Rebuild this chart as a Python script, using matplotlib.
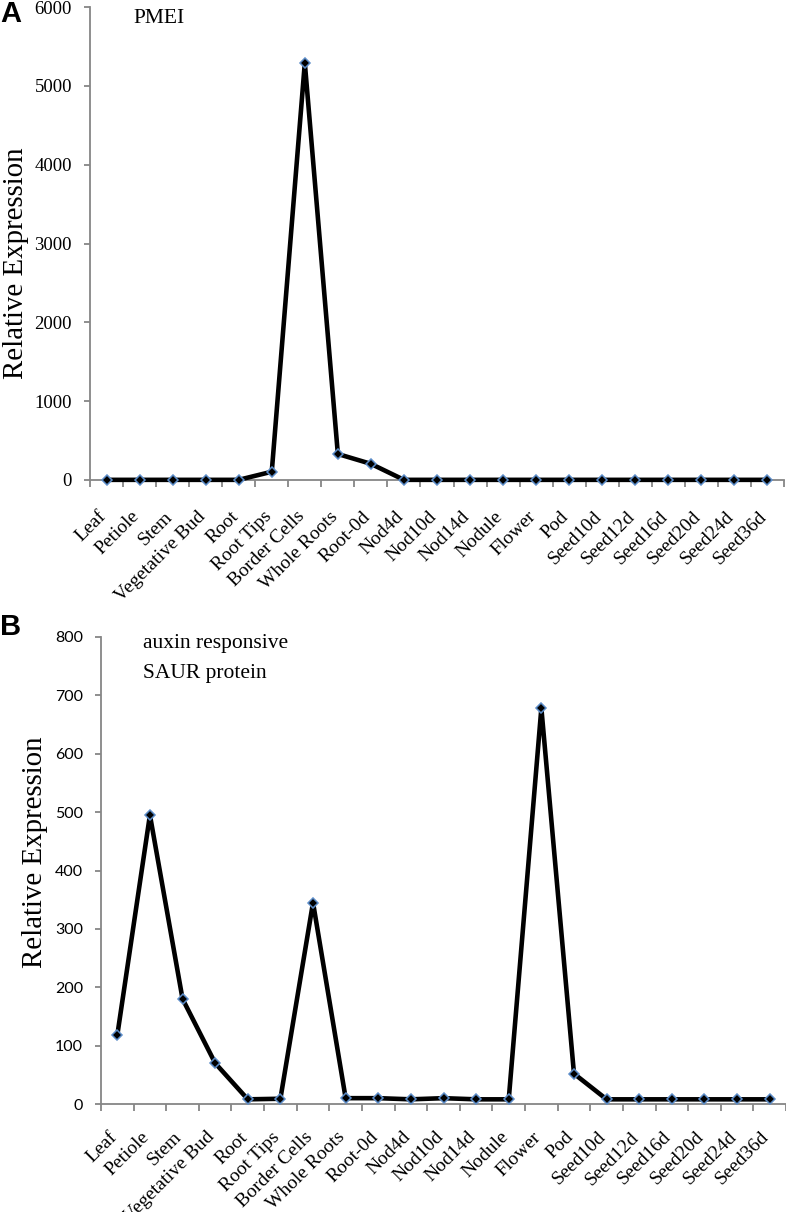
import matplotlib
matplotlib.use("Agg")
import matplotlib.pyplot as plt
import matplotlib.transforms as mtransforms
import numpy as np

categories = ["Leaf", "Petiole", "Stem", "Vegetative Bud", "Root", "Root Tips",
              "Border Cells", "Whole Roots", "Root-0d", "Nod4d", "Nod10d", "Nod14d",
              "Nodule", "Flower", "Pod", "Seed10d", "Seed12d", "Seed16d", "Seed20d",
              "Seed24d", "Seed36d"]

pmei_values = [2, 2, 2, 2, 2, 105, 5290, 330, 205, 2, 2, 2, 2, 2, 2, 2, 2, 2, 2, 2, 2]
saur_values = [118, 495, 180, 70, 8, 9, 345, 10, 10, 8, 10, 8, 8, 678, 52, 8, 8, 8, 8, 8, 8]

pmei_yticks = [0, 1000, 2000, 3000, 4000, 5000, 6000]
saur_yticks = [0, 100, 200, 300, 400, 500, 600, 700, 800]

W, H = 786, 1212
fig = plt.figure(figsize=(W / 100, H / 100), dpi=100)

SERIF = ["Liberation Serif", "DejaVu Serif"]
SANS = ["Lato", "Liberation Sans", "DejaVu Sans"]
AXC = "#868686"


def box(l, t, r, b):
    return [l / W, 1 - b / H, (r - l) / W, (b - t) / H]


def panel(rect, values, yticks, ytick_font, ytick_size, xpad, ylab_xy, ann_lines, ann_x,
          ann_baselines, letter, letter_xy):
    ax = fig.add_axes(rect)
    x = np.arange(len(categories))
    ax.plot(x, values, color="black", lw=3.3, marker="D", ms=5.0,
            mfc="black", mec="#5b8cc8", mew=1.1, solid_joinstyle="round", zorder=3, clip_on=False)
    ax.set_xlim(-0.5, len(categories) - 0.5)
    ax.set_ylim(yticks[0], yticks[-1])
    for s in ["top", "right"]:
        ax.spines[s].set_visible(False)
    for s in ["left", "bottom"]:
        ax.spines[s].set_color(AXC)
        ax.spines[s].set_linewidth(1.3)
    ax.set_yticks(yticks)
    ax.set_yticklabels([str(v) for v in yticks], family=ytick_font, fontsize=ytick_size)
    ax.tick_params(axis="y", direction="out", length=4, width=1.3, color=AXC, pad=9)
    ax.set_xticks(x)
    ax.set_xticklabels(categories, family=SERIF, fontsize=14, rotation=45,
                       ha="right", va="center", rotation_mode="anchor")
    ax.tick_params(axis="x", which="major", length=0, pad=xpad)
    shift = mtransforms.ScaledTranslation(-2.2 / 72, 0, fig.dpi_scale_trans)
    for lab in ax.get_xticklabels():
        lab.set_transform(lab.get_transform() + shift)
    ax.set_xticks(np.arange(-0.5, len(categories)), minor=True)
    ax.tick_params(axis="x", which="minor", direction="out", length=5, width=1.3, color=AXC)
    fig.text(ylab_xy[0] / W, 1 - ylab_xy[1] / H, "Relative Expression", rotation=90,
             family=SERIF, fontsize=20.8, ha="center", va="center")
    for line, yb in zip(ann_lines, ann_baselines):
        fig.text(ann_x / W, 1 - yb / H, line, family=SERIF, fontsize=15.5,
                 ha="left", va="baseline")
    fig.text(letter_xy[0] / W, 1 - letter_xy[1] / H, letter, family=["Liberation Sans", "DejaVu Sans"],
             fontsize=21, fontweight="bold", ha="left", va="top")
    return ax


panel(box(90, 7, 784, 480), pmei_values, pmei_yticks, SERIF, 13.5, 24.5, (16, 263.5),
      ["PMEI"], 133, [23], "A", (0, 0))
panel(box(101, 637, 786, 1104), saur_values, saur_yticks, SANS, 11.5, 22, (35, 852),
      ["auxin responsive", "SAUR protein"], 143, [648, 678], "B", (0, 613))

fig.savefig("out.png", dpi=100)
